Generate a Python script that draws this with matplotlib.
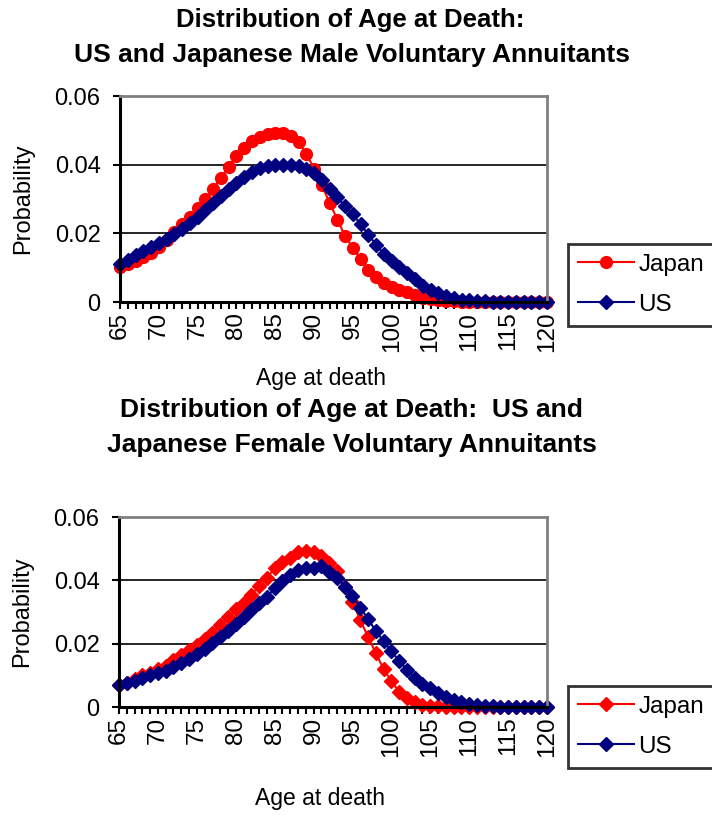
import matplotlib
matplotlib.use('Agg')
import matplotlib.pyplot as plt
from matplotlib.ticker import MultipleLocator, FuncFormatter

plt.rcParams['font.family'] = ['Liberation Sans', 'DejaVu Sans']

# ages 65..120, one value per year
ages = list(range(65, 121))

japan_male = [0.0103, 0.0112, 0.0120, 0.0132, 0.0144, 0.0160, 0.0182, 0.0205, 0.0227, 0.0248,
              0.0273, 0.0300, 0.0330, 0.0362, 0.0394, 0.0424, 0.0450, 0.0470, 0.0481, 0.0488,
              0.0492, 0.0492, 0.0484, 0.0465, 0.0432, 0.0388, 0.0340, 0.0289, 0.0240, 0.0192,
              0.0158, 0.0125, 0.0094, 0.0072, 0.0055, 0.0044, 0.0034, 0.0028, 0.0021, 0.0013,
              0.0008, 0.0005, 0.0003, 0.0002, 0.0001, 0.0001, 0.0001, 0.0, 0.0, 0.0,
              0.0, 0.0, 0.0, 0.0, 0.0, 0.0]
us_male = [0.0110, 0.0122, 0.0137, 0.0150, 0.0161, 0.0172, 0.0184, 0.0198, 0.0213, 0.0230,
           0.0248, 0.0268, 0.0288, 0.0310, 0.0330, 0.0347, 0.0363, 0.0378, 0.0390, 0.0397,
           0.0400, 0.0400, 0.0399, 0.0396, 0.0387, 0.0376, 0.0356, 0.0330, 0.0305, 0.0279,
           0.0255, 0.0226, 0.0196, 0.0166, 0.0140, 0.0118, 0.0102, 0.0084, 0.0066, 0.0048,
           0.0035, 0.0026, 0.0018, 0.0012, 0.0007, 0.0005, 0.0003, 0.0002, 0.0001, 0.0001,
           0.0, 0.0, 0.0, 0.0, 0.0, 0.0]
japan_female = [0.0070, 0.0077, 0.0089, 0.0100, 0.0108, 0.0120, 0.0130, 0.0147, 0.0164, 0.0181,
                0.0197, 0.0216, 0.0235, 0.0258, 0.0283, 0.0308, 0.0330, 0.0354, 0.0382, 0.0408,
                0.0438, 0.0458, 0.0472, 0.0488, 0.0493, 0.0490, 0.0478, 0.0455, 0.0430, 0.0380,
                0.0333, 0.0275, 0.0222, 0.0170, 0.0120, 0.0082, 0.0048, 0.0028, 0.0015, 0.0007,
                0.0004, 0.0002, 0.0001, 0.0, 0.0, 0.0, 0.0, 0.0, 0.0, 0.0,
                0.0, 0.0, 0.0, 0.0, 0.0, 0.0]
us_female = [0.0068, 0.0075, 0.0083, 0.0091, 0.0100, 0.0107, 0.0114, 0.0126, 0.0139, 0.0153,
             0.0168, 0.0184, 0.0202, 0.0221, 0.0240, 0.0263, 0.0284, 0.0306, 0.0327, 0.0348,
             0.0375, 0.0397, 0.0418, 0.0432, 0.0440, 0.0438, 0.0445, 0.0427, 0.0408, 0.0380,
             0.0350, 0.0314, 0.0278, 0.0240, 0.0208, 0.0176, 0.0146, 0.0118, 0.0092, 0.0074,
             0.0060, 0.0044, 0.0032, 0.0023, 0.0017, 0.0010, 0.0005, 0.0003, 0.0002, 0.0001,
             0.0, 0.0, 0.0, 0.0, 0.0, 0.0]

W, H = 712, 815
fig = plt.figure(figsize=(W / 100, H / 100), dpi=100)


def px_axes(left, top, right, bottom):
    return fig.add_axes([left / W, 1 - bottom / H, (right - left) / W, (bottom - top) / H])


def style_axes(ax, xlab_y):
    ax.set_xlim(65, 120)
    ax.set_ylim(0, 0.06)
    ax.xaxis.set_major_locator(MultipleLocator(5))
    ax.xaxis.set_minor_locator(MultipleLocator(1))
    ax.yaxis.set_major_locator(MultipleLocator(0.02))
    ax.yaxis.set_major_formatter(FuncFormatter(lambda v, p: '0' if abs(v) < 1e-9 else '%.2f' % v))
    ax.tick_params(axis='x', which='both', direction='out', length=5, width=1.5,
                   labelsize=17.5, labelrotation=90, pad=2)
    ax.tick_params(axis='y', direction='out', length=5, width=1.5, labelsize=17, pad=9)
    ax.grid(True, axis='y', color='black', linewidth=1.2)
    ax.set_axisbelow(True)
    for s in ['left', 'bottom']:
        ax.spines[s].set_color('black')
        ax.spines[s].set_linewidth(2.2)
    for s in ['top', 'right']:
        ax.spines[s].set_color('#808080')
        ax.spines[s].set_linewidth(2)
    ax.set_ylabel('Probability', fontsize=17)
    ax.yaxis.set_label_coords(-0.20, 0.5)
    ax.set_xlabel('Age at death', fontsize=16.5)
    ax.xaxis.set_label_coords(0.47, xlab_y)


def add_legend(ax, top_px):
    leg = ax.legend(loc='upper left', bbox_to_anchor=(568 / W, 1 - top_px / H),
                    bbox_transform=fig.transFigure, fontsize=17.5, frameon=True,
                    fancybox=False, edgecolor='black', handlelength=2.3,
                    handletextpad=0.2, labelspacing=0.75, borderpad=0.4,
                    borderaxespad=0)
    leg.get_frame().set_linewidth(2)


# top: male
ax1 = px_axes(120, 96, 547, 302)
ax1.plot(ages, japan_male, color='#FF0000', marker='o', markersize=8.5, lw=1.5,
         label='Japan', clip_on=False)
ax1.plot(ages, us_male, color='#000080', marker='D', markersize=7, lw=1.5,
         label='US', clip_on=False)
style_axes(ax1, -0.315)
add_legend(ax1, 244)

fig.text(350 / W, 1 - 20 / H, 'Distribution of Age at Death:', ha='center', va='center',
         fontsize=18.5, fontweight='bold')
fig.text(352 / W, 1 - 55 / H, 'US and Japanese Male Voluntary Annuitants', ha='center',
         va='center', fontsize=19, fontweight='bold')

# bottom: female
ax2 = px_axes(119, 517, 547, 707)
ax2.plot(ages, japan_female, color='#FF0000', marker='D', markersize=7, lw=1.5,
         label='Japan', clip_on=False)
ax2.plot(ages, us_female, color='#000080', marker='D', markersize=7, lw=1.5,
         label='US', clip_on=False)
style_axes(ax2, -0.42)
add_legend(ax2, 686)

fig.text(351 / W, 1 - 410 / H, 'Distribution of Age at Death:  US and', ha='center',
         va='center', fontsize=19, fontweight='bold')
fig.text(352 / W, 1 - 445 / H, 'Japanese Female Voluntary Annuitants', ha='center',
         va='center', fontsize=19, fontweight='bold')

fig.savefig('out.png', dpi=100)
